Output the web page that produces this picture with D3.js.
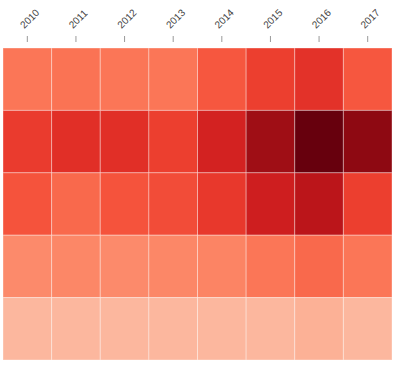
<!DOCTYPE html>
<html>
<head>
<meta charset="utf-8">
<script src="https://cdn.jsdelivr.net/npm/d3@7"></script>
<style>
  html, body { margin: 0; padding: 0; background: #fff; }
  svg { display: block; font-family: "Liberation Sans", Arial, sans-serif; }
</style>
</head>
<body>
<svg id="chart" width="400" height="368"></svg>
<script>
const years = ["2010", "2011", "2012", "2013", "2014", "2015", "2016", "2017"];
const rows = ["R1", "R2", "R3", "R4", "R5"];
const row1 = [46, 47, 46, 46, 55, 62, 66, 55];
const row2 = [63, 67, 67, 62, 72, 88, 100, 92];
const row3 = [56, 50, 56, 58, 64, 74, 80, 62];
const row4 = [40, 41, 40, 41, 42, 46, 50, 46];
const row5 = [26, 26, 26, 26, 26, 26, 28, 26];
const values = [row1, row2, row3, row4, row5];

const cells = [];
rows.forEach((r, i) => years.forEach((y, j) => cells.push({row: r, year: y, value: values[i][j]})));

const svg = d3.select("#chart");
const x = d3.scaleBand().domain(years).range([3, 392]);
const y = d3.scaleBand().domain(rows).range([48, 360]);
const color = d3.scaleSequential(d3.interpolateReds).domain([0, 100]);

svg.append("g").selectAll("rect")
  .data(cells)
  .join("rect")
  .attr("x", d => x(d.year))
  .attr("y", d => y(d.row))
  .attr("width", x.bandwidth())
  .attr("height", y.bandwidth())
  .attr("fill", d => color(d.value))
  .attr("stroke", "rgba(255,255,255,0.35)")
  .attr("stroke-width", 1);

const axis = svg.append("g")
  .attr("transform", "translate(0,42)")
  .call(d3.axisTop(x).tickSize(6).tickSizeOuter(0));
axis.select(".domain").remove();
axis.selectAll(".tick line").attr("stroke", "#999");
axis.selectAll(".tick text")
  .attr("x", 0).attr("y", 0).attr("dy", 0)
  .attr("fill", "#444")
  .style("font-size", "10px")
  .style("font-family", "'Liberation Sans', Arial, sans-serif")
  .attr("text-anchor", "start")
  .attr("transform", "translate(-3,-13) rotate(-45)");
</script>
</body>
</html>
